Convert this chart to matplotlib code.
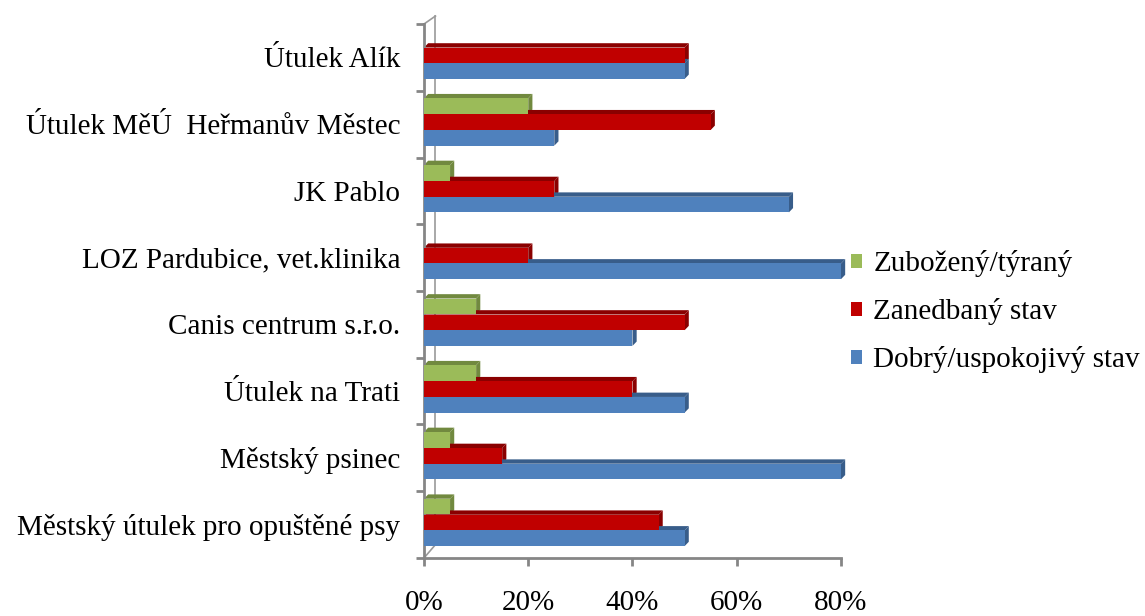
import matplotlib
matplotlib.use("Agg")
import matplotlib.pyplot as plt
from matplotlib.patches import Patch, Polygon
import numpy as np

# categories listed top to bottom as in the chart
categories = [
    "Útulek Alík",
    "Útulek MěÚ  Heřmanův Městec",
    "JK Pablo",
    "LOZ Pardubice, vet.klinika",
    "Canis centrum s.r.o.",
    "Útulek na Trati",
    "Městský psinec",
    "Městský útulek pro opuštěné psy",
]
zubozeny = [0, 20, 5, 0, 10, 10, 5, 5]
zanedbany = [50, 55, 25, 20, 50, 40, 15, 45]
dobry = [50, 25, 70, 80, 40, 50, 80, 50]
series_names = ["Zubožený/týraný", "Zanedbaný stav", "Dobrý/uspokojivý stav"]
x_ticks = [0, 20, 40, 60, 80]

colors = ["#9BBB59", "#C00000", "#4F81BD"]
dark = ["#71893F", "#8A0000", "#385D8A"]
offsets = [0.27, 0.03, -0.205]
bar_h = 0.235
dx, dy = 0.8, 0.065

plt.rcParams["font.family"] = ["Liberation Serif", "DejaVu Serif"]
FS = 21

fig = plt.figure(figsize=(11.45, 6.16), dpi=100)
ax = fig.add_axes([0.3703, 0.0942, 0.3642, 0.8668])

n = len(categories)
ypos = np.arange(n)[::-1]
for vals, off, c, dc in zip([zubozeny, zanedbany, dobry], offsets, colors, dark):
    for y, v in zip(ypos, vals):
        if v <= 0:
            continue
        y0 = y + off - bar_h / 2
        y1 = y + off + bar_h / 2
        ax.add_patch(Polygon([(0, y1), (dx, y1 + dy), (v + dx, y1 + dy), (v, y1)],
                             closed=True, facecolor=dc, edgecolor="none", clip_on=False, zorder=2))
        ax.add_patch(Polygon([(v, y0), (v + dx, y0 + dy), (v + dx, y1 + dy), (v, y1)],
                             closed=True, facecolor=dc, edgecolor="none", clip_on=False, zorder=2))
        ax.barh(y + off, v, height=bar_h, color=c, edgecolor="none", zorder=3, clip_on=False)

ax.set_xlim(0, 80)
ax.set_ylim(-0.5, n - 0.5)

# back wall line (3D look)
ax.plot([2.2, 2.2], [-0.3, n - 0.38], color="#9a9a9a", lw=1.2, clip_on=False, zorder=1)
ax.plot([0, 2.2], [n - 0.5, n - 0.38], color="#9a9a9a", lw=1.2, clip_on=False, zorder=1)
ax.plot([0, 2.2], [-0.5, -0.3], color="#9a9a9a", lw=1.2, clip_on=False, zorder=1)

for s in ["top", "right"]:
    ax.spines[s].set_visible(False)
for s in ["left", "bottom"]:
    ax.spines[s].set_color("#868686")
    ax.spines[s].set_linewidth(2)

ax.set_yticks(ypos)
ax.set_yticklabels(categories, fontsize=FS)
ax.set_yticks(np.arange(-0.5, n, 1.0), minor=True)
ax.tick_params(axis="y", which="major", length=0, pad=17)
ax.tick_params(axis="y", which="minor", length=6, width=2, color="#868686", direction="out")

ax.set_xticks(x_ticks)
ax.set_xticklabels([f"{t}%" for t in x_ticks], fontsize=FS)
ax.tick_params(axis="x", which="major", length=6, width=2, color="#868686", direction="out", pad=17)

handles = [Patch(facecolor=c, edgecolor="none") for c in colors]
fig.legend(handles, series_names, loc="center left", bbox_to_anchor=(0.743, 0.494),
           frameon=False, fontsize=FS, handlelength=0.38, handleheight=0.38,
           handletextpad=0.4, labelspacing=0.72, borderaxespad=0, borderpad=0)

fig.savefig("out.png", dpi=100)
